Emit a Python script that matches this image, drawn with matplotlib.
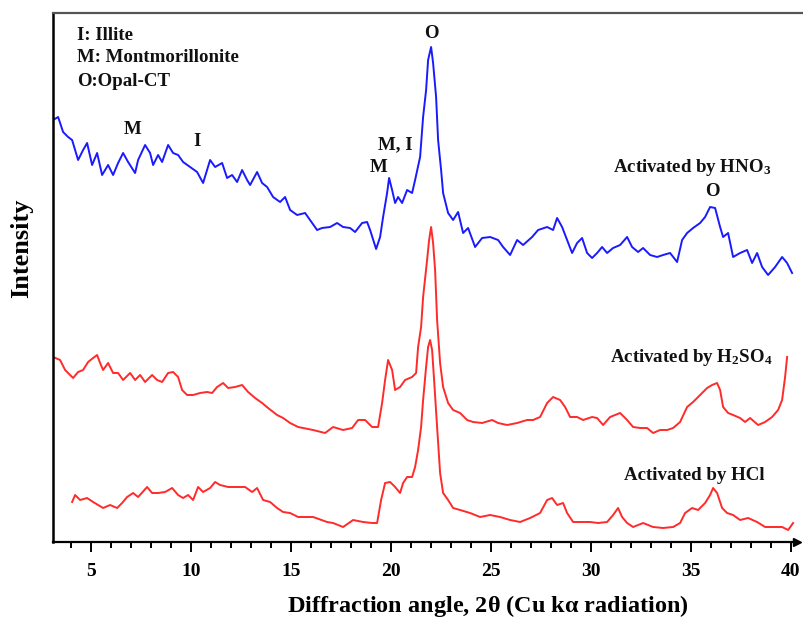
import matplotlib
matplotlib.use('Agg')
import numpy as np
import matplotlib.pyplot as plt
from matplotlib.ticker import MultipleLocator

plt.rcParams['font.family'] = ['Liberation Serif', 'DejaVu Serif']
plt.rcParams['font.weight'] = 'bold'
plt.rcParams['mathtext.fontset'] = 'custom'
plt.rcParams['mathtext.rm'] = 'Liberation Serif:bold'
plt.rcParams['mathtext.bf'] = 'Liberation Serif:bold'
plt.rcParams['mathtext.it'] = 'Liberation Serif:bold'

# XRD patterns (2theta in degrees, intensity in arbitrary units)
hno3_2t = [3.12, 3.37, 3.62, 3.87, 4.07, 4.37, 4.62, 4.82, 5.07, 5.32, 5.57, 5.87, 6.12, 6.37,
           6.62, 6.87, 7.22, 7.37, 7.72, 7.97, 8.12, 8.37, 8.57, 8.87, 9.12, 9.37, 9.62, 9.97,
           10.32, 10.62, 10.82, 10.97, 11.22, 11.57, 11.82, 12.07, 12.32, 12.57, 12.82, 12.97,
           13.32, 13.57, 13.82, 14.12, 14.47, 14.72, 14.97, 15.32, 15.72, 16.07, 16.32, 16.57,
           16.97, 17.32, 17.62, 17.97, 18.22, 18.57, 18.82, 18.97, 19.27, 19.47, 19.62, 19.82,
           19.92, 20.07, 20.22, 20.37, 20.57, 20.82, 21.07, 21.22, 21.47, 21.62, 21.77, 21.87,
           22.02, 22.12, 22.27, 22.37, 22.52, 22.62, 22.87, 23.12, 23.37, 23.62, 23.87, 24.22,
           24.57, 24.97, 25.37, 25.62, 25.97, 26.32, 26.62, 27.07, 27.37, 27.82, 28.12, 28.32,
           28.57, 28.82, 29.07, 29.32, 29.57, 29.82, 30.07, 30.32, 30.57, 30.82, 31.12, 31.47,
           31.82, 32.07, 32.37, 32.62, 32.97, 33.32, 33.62, 33.97, 34.32, 34.57, 34.82, 35.12,
           35.47, 35.72, 35.97, 36.22, 36.47, 36.62, 36.87, 37.12, 37.47, 37.82, 38.07, 38.32,
           38.57, 38.87, 39.22, 39.57, 39.82, 40.07]
hno3_int = [422, 425, 410, 405, 402, 382, 392, 399, 377, 389, 367, 377, 367, 379,
            389, 380, 369, 382, 397, 389, 377, 387, 380, 397, 389, 387, 380, 375,
            370, 359, 372, 382, 375, 379, 364, 367, 360, 372, 362, 357,
            370, 359, 355, 345, 340, 345, 332, 327, 329, 319, 312, 314,
            315, 319, 315, 314, 310, 319, 320, 312, 293, 305, 325, 349,
            364, 352, 339, 345, 339, 352, 349, 362, 385, 425, 452, 482,
            495, 479, 445, 402, 372, 349, 329, 322, 330, 309, 314, 295,
            304, 305, 302, 295, 287, 302, 297, 305, 312, 315, 312, 324,
            315, 302, 289, 299, 304, 289, 284, 289, 295, 289, 294, 297,
            305, 295, 290, 294, 287, 285, 287, 289, 280, 302, 309, 314,
            319, 325, 335, 334, 315, 305, 309, 285, 289, 292, 279, 289,
            275, 267, 275, 285, 279, 269]

h2so4_2t = [3.12, 3.47, 3.72, 4.12, 4.37, 4.62, 4.87, 5.12, 5.32, 5.47, 5.62, 5.87, 6.12, 6.37,
            6.62, 6.97, 7.22, 7.47, 7.72, 8.07, 8.32, 8.57, 8.87, 9.12, 9.37, 9.57, 9.82, 10.12,
            10.47, 10.82, 11.07, 11.32, 11.62, 11.87, 12.22, 12.57, 12.87, 13.22, 13.57, 13.87,
            14.32, 14.62, 14.97, 15.37, 16.12, 16.72, 17.12, 17.62, 18.07, 18.37, 18.72, 19.07,
            19.37, 19.57, 19.72, 19.87, 20.07, 20.22, 20.47, 20.72, 21.07, 21.27, 21.37, 21.52,
            21.62, 21.82, 21.92, 22.02, 22.12, 22.22, 22.32, 22.47, 22.62, 22.87, 23.12, 23.47,
            23.82, 24.12, 24.57, 25.07, 25.37, 25.82, 26.32, 26.82, 27.12, 27.47, 27.82, 28.12,
            28.47, 28.72, 28.97, 29.32, 29.62, 30.07, 30.32, 30.62, 30.97, 31.47, 31.82, 32.12,
            32.47, 32.82, 33.12, 33.47, 33.82, 34.12, 34.47, 34.82, 35.12, 35.47, 35.82, 36.07,
            36.32, 36.47, 36.62, 36.87, 37.12, 37.47, 37.72, 37.97, 38.37, 38.72, 39.07, 39.37,
            39.57, 39.72, 39.82]
h2so4_int = [185, 182, 172, 164, 170, 172, 180, 184, 187, 179, 172, 179, 169, 169,
             162, 169, 162, 167, 160, 167, 162, 160, 169, 170, 165, 152, 147, 147,
             149, 150, 149, 155, 159, 154, 155, 157, 150, 144, 139, 134,
             127, 124, 119, 115, 112, 109, 115, 112, 114, 122, 122, 115,
             115, 139, 162, 182, 172, 152, 155, 162, 165, 169, 195, 215,
             245, 282, 302, 315, 299, 272, 222, 179, 155, 139, 132, 129,
             122, 120, 119, 122, 119, 117, 119, 122, 122, 125, 139, 145,
             142, 135, 125, 125, 122, 125, 124, 117, 125, 129, 122, 115,
             114, 114, 109, 112, 112, 114, 120, 135, 140, 147, 154, 157,
             159, 152, 135, 129, 127, 124, 120, 124, 117, 120, 125, 132,
             142, 165, 185]

hcl_2t = [4.07, 4.22, 4.47, 4.82, 5.12, 5.37, 5.62, 5.97, 6.32, 6.57, 6.82, 7.12, 7.37, 7.82,
          8.07, 8.37, 8.72, 9.07, 9.37, 9.62, 9.87, 10.12, 10.37, 10.62, 10.97, 11.22, 11.47,
          11.87, 12.32, 12.72, 13.07, 13.32, 13.62, 13.97, 14.32, 14.62, 14.97, 15.37, 16.12,
          16.82, 17.12, 17.62, 18.12, 18.62, 19.07, 19.32, 19.52, 19.72, 19.97, 20.22, 20.47,
          20.62, 20.82, 21.07, 21.22, 21.37, 21.52, 21.62, 21.77, 21.87, 21.97, 22.07, 22.17,
          22.32, 22.47, 22.62, 22.87, 23.12, 23.47, 23.97, 24.47, 24.97, 25.47, 25.97, 26.47,
          26.97, 27.47, 27.82, 28.07, 28.32, 28.62, 28.82, 29.12, 29.57, 29.97, 30.37, 30.82,
          31.12, 31.37, 31.57, 31.82, 32.12, 32.62, 33.12, 33.62, 34.12, 34.47, 34.72, 35.07,
          35.37, 35.72, 35.97, 36.12, 36.32, 36.57, 36.82, 37.12, 37.47, 37.87, 38.32, 38.72,
          39.12, 39.57, 39.87, 40.12]
hcl_int = [40, 47, 42, 44, 40, 37, 34, 37, 34, 39, 45, 49, 45, 55,
           49, 49, 50, 54, 47, 44, 47, 42, 55, 50, 54, 60, 57,
           55, 55, 55, 50, 54, 42, 40, 34, 30, 29, 25, 25,
           20, 19, 15, 22, 20, 19, 19, 42, 59, 60, 55, 49,
           59, 65, 65, 75, 92, 115, 142, 175, 195, 202, 192, 162,
           115, 69, 49, 42, 34, 32, 29, 25, 27, 25, 22, 20,
           24, 29, 42, 44, 37, 39, 29, 20, 20, 20, 19, 20,
           27, 34, 25, 19, 15, 19, 15, 14, 15, 19, 29, 34,
           32, 39, 47, 54, 49, 34, 29, 27, 22, 24, 20, 15,
           15, 15, 12, 19]

fig = plt.figure(figsize=(8.04, 6.20), dpi=100)
ax = fig.add_axes([53 / 804, 78 / 620, 751 / 804, 529 / 620])

ax.plot(hno3_2t, hno3_int, color='#1a1aff', lw=1.4)
ax.plot(h2so4_2t, h2so4_int, color='#ff2a2a', lw=1.4)
ax.plot(hcl_2t, hcl_int, color='#ff2a2a', lw=1.4)

ax.set_xlim(3.115, 40.665)
ax.set_ylim(0, 529)
ax.xaxis.set_major_locator(MultipleLocator(5))
ax.xaxis.set_minor_locator(MultipleLocator(1))
ax.set_xticks(np.arange(5, 41, 5))
ax.set_yticks([])
ax.tick_params(axis='x', which='major', direction='out', length=7, width=1.4,
               labelsize=14, pad=8)
ax.tick_params(axis='x', which='minor', direction='out', length=4.5, width=1.4)
for lab in ax.get_xticklabels():
    lab.set_fontweight('bold')

ax.spines['right'].set_visible(False)
ax.spines['left'].set_linewidth(1.8)
ax.spines['bottom'].set_linewidth(1.6)
ax.spines['bottom'].set_bounds(3.115, 40.3)
ax.spines['top'].set_linewidth(1.6)
ax.spines['top'].set_color('#555555')
ax.plot([40.3], [0], marker='>', color='black', markersize=6,
        transform=ax.get_xaxis_transform(), clip_on=False)

fig.text(488 / 804, 1 - 606 / 620, r'Diffraction angle, 2$\theta$ (Cu k$\alpha$ radiation)',
         fontsize=17.5, fontweight='bold', ha='center', va='center')
fig.text(22 / 804, 1 - 248 / 620, 'Intensity', rotation=90, fontsize=19,
         fontweight='bold', ha='center', va='center')

kw = dict(fontsize=13.6, fontweight='bold', color='#111111')
ax.text(4.32, 507, 'I: Illite', ha='left', va='center', **kw)
ax.text(4.32, 484, 'M: Montmorillonite', ha='left', va='center', **kw)
ax.text(4.32, 461, 'O:Opal-CT', ha='left', va='center', **kw)
ax.text(7.07, 412, 'M', ha='center', va='center', **kw)
ax.text(10.32, 401, 'I', ha='center', va='center', **kw)
ax.text(20.22, 397, 'M, I', ha='center', va='center', **kw)
ax.text(19.37, 375, 'M', ha='center', va='center', **kw)
ax.text(22.02, 508, 'O', ha='center', va='center', **kw)
ax.text(36.07, 350, 'O', ha='center', va='center', **kw)
ax.text(31.12, 375, r'Activated by HNO$_3$', ha='left', va='center', **kw)
ax.text(30.97, 184, r'Activated by H$_2$SO$_4$', ha='left', va='center', **kw)
ax.text(31.67, 67, 'Activated by HCl', ha='left', va='center', **kw)

fig.savefig('out.png', dpi=100)
